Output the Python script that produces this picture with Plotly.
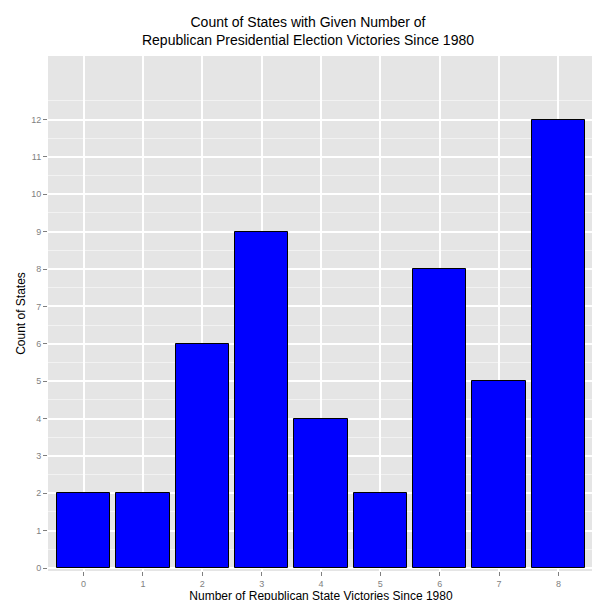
import plotly.graph_objects as go

victories = [0, 1, 2, 3, 4, 5, 6, 7, 8]
state_counts = [2, 2, 6, 9, 4, 2, 8, 5, 12]

fig = go.Figure()
fig.add_trace(go.Bar(
    x=victories,
    y=state_counts,
    width=0.9,
    marker=dict(color='#0000FF', line=dict(color='black', width=1)),
))

fig.update_layout(
    width=600, height=600,
    margin=dict(l=40, r=14, t=48, b=37),
    paper_bgcolor='white',
    plot_bgcolor='#E5E5E5',
    font=dict(family='Liberation Sans, Arial', color='black'),
    title=dict(
        text='Count of States with Given Number of<br>Republican Presidential Election Victories Since 1980',
        x=0.5, xanchor='center', y=0.968, yanchor='top', font=dict(size=14),
    ),
    showlegend=False,
    bargap=0,
)
fig.update_xaxes(
    range=[-0.6, 8.6], tickmode='array', tickvals=victories,
    ticks='outside', ticklen=4, tickcolor='#7F7F7F',
    tickfont=dict(size=9, color='#7F7F7F'),
    showgrid=True, gridcolor='white', gridwidth=1.5,
    zeroline=False, automargin=False,
    title=dict(text='Number of Republican State Victories Since 1980', font=dict(size=12), standoff=2),
)
fig.update_yaxes(
    range=[-0.08, 13.7], tickmode='array', tickvals=list(range(13)),
    ticks='outside', ticklen=4, tickcolor='#7F7F7F',
    tickfont=dict(size=9, color='#7F7F7F'),
    showgrid=True, gridcolor='white', gridwidth=1.5,
    minor=dict(tickmode='array', tickvals=[i + 0.5 for i in range(13)],
               showgrid=True, gridcolor='#F2F2F2', gridwidth=0.7, ticks=''),
    zeroline=False, automargin=False,
    title=dict(text='Count of States', font=dict(size=12), standoff=2),
)

fig.write_html("out.html")
